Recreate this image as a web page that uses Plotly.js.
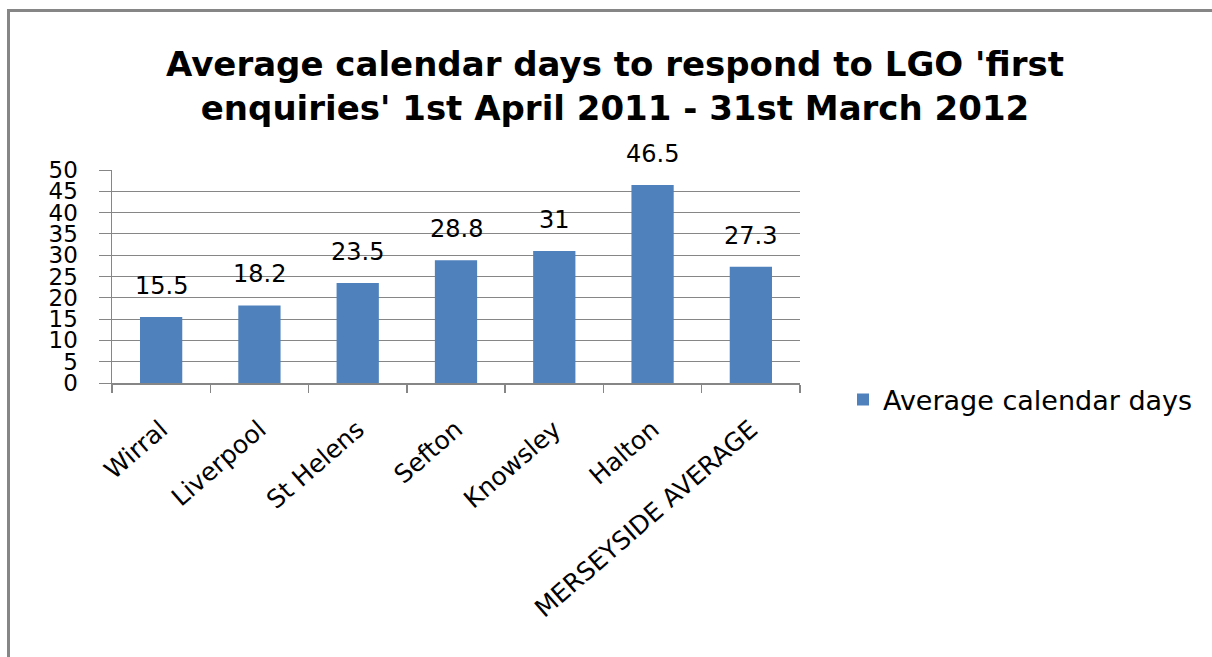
<!DOCTYPE html>
<html>
<head>
<meta charset="utf-8">
<script src="https://cdn.plot.ly/plotly-3.0.1.min.js"></script>
<style>
  html, body { margin: 0; padding: 0; background: #ffffff; }
  #chart { width: 1212px; height: 657px; }
</style>
</head>
<body>
<div id="chart"></div>
<script>
// ---- data ----
const categories = ["Wirral", "Liverpool", "St Helens", "Sefton", "Knowsley", "Halton", "MERSEYSIDE AVERAGE"];
const averageDays = [15.5, 18.2, 23.5, 28.8, 31, 46.5, 27.3];
const seriesName = "Average calendar days";
const yTickValues = [0, 5, 10, 15, 20, 25, 30, 35, 40, 45, 50];
const chartTitle = "Average calendar days to respond to LGO 'first<br>enquiries' 1st April 2011 - 31st March 2012";

const W = 1212, H = 657;
const margin = { l: 112, r: 412, t: 170, b: 274 };
const plotW = W - margin.l - margin.r;
const plotH = H - margin.t - margin.b;
const px2paperX = px => (px - margin.l) / plotW;
const px2paperY = py => (H - margin.b - py) / plotH;

const gridColor = "#868686";
const barColor = "#4F81BD";
const font = "DejaVu Sans, sans-serif";

const trace = {
  type: "bar",
  x: categories,
  y: averageDays,
  name: seriesName,
  marker: { color: barColor, line: { width: 0 } },
  hoverinfo: "x+y",
  showlegend: true
};

const annotations = categories.map((c, i) => ({
  x: c,
  y: averageDays[i],
  xref: "x",
  yref: "y",
  text: String(averageDays[i]),
  showarrow: false,
  yanchor: "bottom",
  xanchor: "center",
  yshift: 15,
  font: { family: font, size: 24, color: "#000000" }
}));

const layout = {
  width: W,
  height: H,
  margin: margin,
  paper_bgcolor: "#ffffff",
  plot_bgcolor: "#ffffff",
  title: {
    text: chartTitle,
    font: { family: font, size: 34, color: "#000000", weight: "bold" },
    x: 615 / W,
    xref: "container",
    xanchor: "center",
    y: 1 - 76 / H,
    yref: "container",
    yanchor: "top"
  },
  bargap: 0.57,
  xaxis: {
    type: "category",
    showgrid: false,
    showline: true,
    linecolor: gridColor,
    linewidth: 2,
    ticks: "outside",
    tickson: "boundaries",
    ticklen: 8,
    tickwidth: 1.5,
    tickcolor: gridColor,
    tickangle: -41,
    ticklabelstandoff: 20,
    tickfont: { family: font, size: 25, color: "#000000" },
    fixedrange: true
  },
  yaxis: {
    range: [0, 50],
    tickmode: "array",
    tickvals: yTickValues,
    ticktext: yTickValues.map(String),
    showgrid: true,
    gridcolor: gridColor,
    gridwidth: 1,
    zeroline: false,
    showline: true,
    linecolor: gridColor,
    linewidth: 1.5,
    ticks: "outside",
    ticklen: 12,
    tickwidth: 1,
    tickcolor: gridColor,
    ticklabelstandoff: 16,
    tickfont: { family: font, size: 23, color: "#000000" },
    fixedrange: true
  },
  legend: {
    x: px2paperX(843),
    xanchor: "left",
    y: px2paperY(400),
    yanchor: "middle",
    font: { family: font, size: 27, color: "#000000" },
    bgcolor: "rgba(0,0,0,0)",
    borderwidth: 0
  },
  shapes: [{
    type: "rect",
    xref: "paper",
    yref: "paper",
    x0: px2paperX(8.5),
    x1: px2paperX(1280),
    y0: px2paperY(720),
    y1: px2paperY(10.5),
    line: { color: gridColor, width: 3 },
    fillcolor: "rgba(0,0,0,0)",
    layer: "above"
  }],
  annotations: annotations
};

Plotly.newPlot("chart", [trace], layout, { displayModeBar: false, staticPlot: true });
</script>
</body>
</html>
